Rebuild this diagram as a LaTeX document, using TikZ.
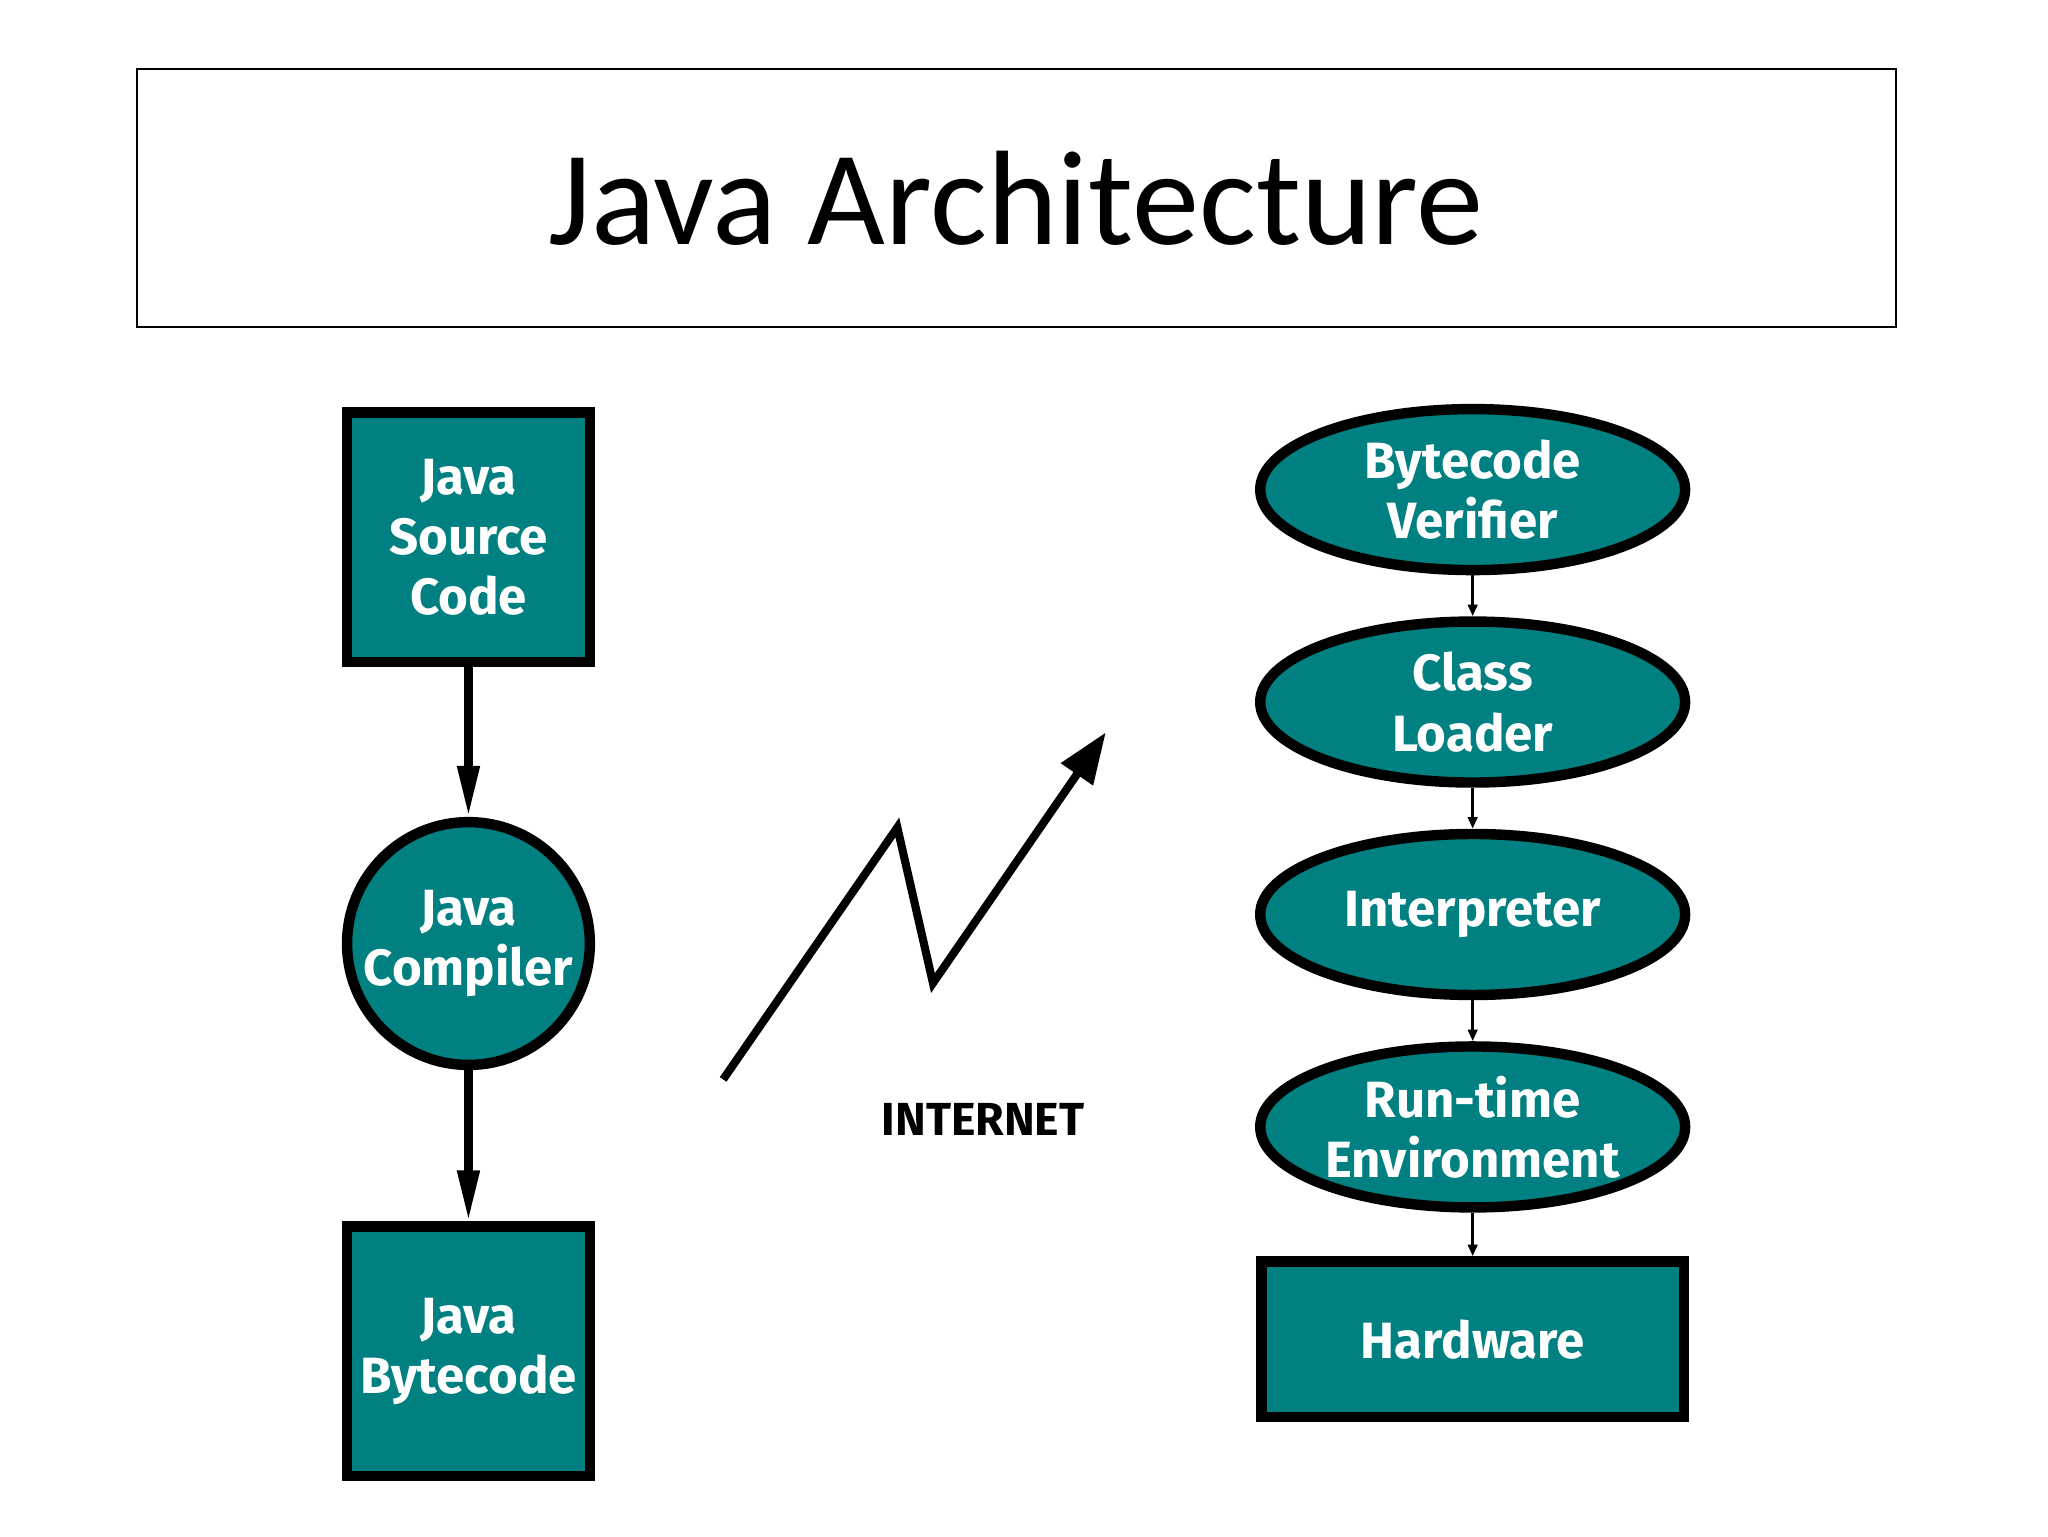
\documentclass[tikz,border=0pt]{standalone}
\usepackage{fontspec}
\setmainfont{Carlito}
\newfontfamily\comicf{Fira Sans}
\usetikzlibrary{arrows.meta,shapes.geometric}
\definecolor{teal1}{RGB}{0,128,128}
\begin{document}
\begin{tikzpicture}[x=0.02cm,y=-0.02cm,
  blk/.style={draw=black,line width=4.5pt,fill=teal1,text=white,font=\comicf\fontsize{22}{26}\selectfont\bfseries,align=center,inner sep=0pt},
  bigarrow/.style={line width=3.5pt,-{Triangle[length=22pt,width=9pt]}},
  small/.style={line width=1.5pt,-{Triangle[length=5pt,width=4pt]}}]
\useasboundingbox (0,0) rectangle (1552,1164);
\node[draw,line width=0.8pt,minimum width=1333*0.02cm,minimum height=195*0.02cm,font=\fontsize{58}{64}\selectfont] (title) at (770,150) {Java Architecture};
\node[blk,minimum width=184*0.02cm,minimum height=189*0.02cm] (src) at (355,407) {Java\\Source\\Code};
\node[blk,circle,minimum size=184*0.02cm] (comp) at (355,715) {Java\\Compiler};
\node[blk,minimum width=184*0.02cm,minimum height=189*0.02cm] (bc) at (355,1024) {Java\\Bytecode};
\draw[bigarrow] (src.south) -- (comp.north);
\draw[bigarrow] (comp.south) -- (bc.north);
\coordinate (z0) at (548,818);
\coordinate (z1) at (680,627);
\coordinate (z2) at (707,745);
\coordinate (z3) at (838,555);
\draw[line width=3.5pt,-{Triangle[length=22pt,width=16pt]}] (z0) -- (z1) -- (z2) -- (z3);
\node[font=\comicf\fontsize{20}{24}\selectfont\bfseries] (inet) at (745,848) {INTERNET};
\foreach \n/\y/\t in {e1/371/{Bytecode\\Verifier},e2/532/{Class\\Loader},e3/693/{Interpreter},e4/854/{Run-time\\Environment}}
  \node[blk,ellipse,minimum width=322*0.02cm,minimum height=122*0.02cm] (\n) at (1116,\y) {\t};
\node[blk,minimum width=320*0.02cm,minimum height=118*0.02cm] (hw) at (1116,1015) {Hardware};
\draw[small] (e1.south) -- (e2.north);
\draw[small] (e2.south) -- (e3.north);
\draw[small] (e3.south) -- (e4.north);
\draw[small] (e4.south) -- (hw.north);
\end{tikzpicture}
\end{document}
